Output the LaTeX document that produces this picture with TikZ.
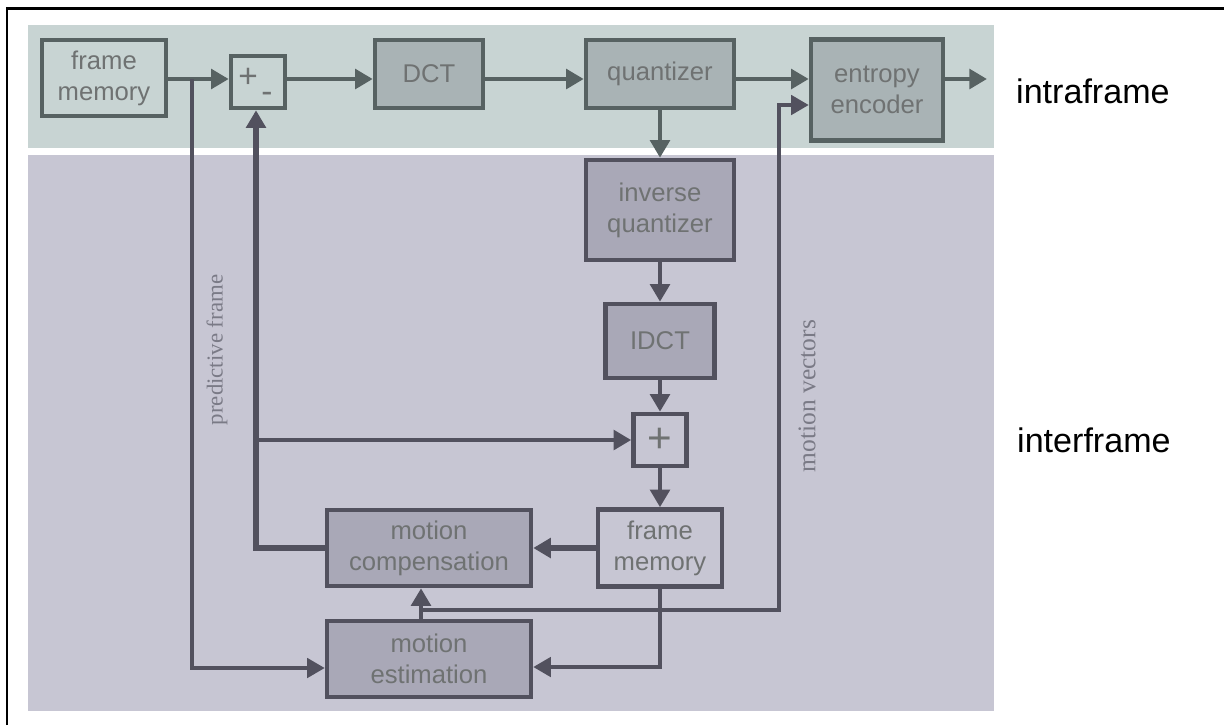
\documentclass[tikz,border=0pt]{standalone}
\usepackage{fontspec}
\setmainfont{Liberation Sans}
\newfontfamily\serifnote{Liberation Serif}
\usetikzlibrary{arrows.meta}
\definecolor{topband}{HTML}{C8D4D3}
\definecolor{botband}{HTML}{C7C6D3}
\definecolor{topfill}{HTML}{A9B3B5}
\definecolor{botfill}{HTML}{A9A8B7}
\definecolor{topline}{HTML}{576262}
\definecolor{botline}{HTML}{52515E}
\definecolor{boxtext}{HTML}{6F7272}
\definecolor{notetext}{HTML}{7A7A86}

\begin{document}
\begin{tikzpicture}
  [x=0.02cm,y=-0.02cm,
   box/.style={draw=topline,line width=2.6pt,fill=topfill,text=boxtext,align=center,
     inner sep=0pt,font=\fontsize{14.6}{17.6}\selectfont},
   lightbox/.style={box,fill=topband},
   lowbox/.style={box,draw=botline,fill=botfill},
   lowlight/.style={lowbox,fill=botband},
   sign/.style={text=boxtext,inner sep=0pt,font=\fontsize{19}{19}\selectfont},
   arr/.style={draw=topline,line width=2.6pt,-{Triangle[length=10pt,width=11pt]}},
   lowarr/.style={arr,draw=botline},
   thickarr/.style={lowarr,line width=3.1pt},
   thinarr/.style={lowarr,line width=2.1pt},
   note/.style={text=notetext,font=\serifnote\fontsize{13}{13}\selectfont,rotate=90}
  ]
  \useasboundingbox (0,0) rectangle (1224,725);

  % frame and bands
  \draw[line width=1.3pt] (7,725) -- (7,8.5) -- (1224,8.5);
  \fill[topband] (28,25) rectangle (994,148);
  \fill[botband] (28,155) rectangle (994,711);

  % intraframe row
  \node[lightbox,minimum width=2.48cm,minimum height=1.52cm] (fm1) at (104,78) {frame\\memory};
  \node[lightbox,minimum width=1.08cm,minimum height=1.04cm] (sub) at (258,82) {};
  \node[sign] (subplus) at ([shift={(-10,-4)}]sub.center) {+};
  \node[sign] (subminus) at ([shift={(9,15)}]sub.center) {-};
  \node[box,minimum width=2.16cm,minimum height=1.36cm] (dct) at (429,74) {DCT};
  \node[box,minimum width=2.96cm,minimum height=1.36cm] (quant) at (660,74) {quantizer};
  \node[box,minimum width=2.64cm,minimum height=2.02cm] (entropy) at (877,90) {entropy\\encoder};

  % interframe part
  \node[lowbox,minimum width=2.96cm,minimum height=2.0cm] (iq) at (660,210) {inverse\\quantizer};
  \node[lowbox,minimum width=2.18cm,minimum height=1.48cm] (idct) at (660,341) {IDCT};
  \node[lowlight,minimum width=1.06cm,minimum height=1.04cm] (add) at (660,440) {};
  \node[sign,font=\fontsize{24}{24}\selectfont] (addplus) at (add.center) {+};
  \node[lowlight,minimum width=2.48cm,minimum height=1.54cm] (fm2) at (660,548) {frame\\memory};
  \node[lowbox,minimum width=4.08cm,minimum height=1.52cm] (mc) at (429,548) {motion\\compensation};
  \node[lowbox,minimum width=4.08cm,minimum height=1.52cm] (me) at (429,659) {motion\\estimation};

  \coordinate (pfsplit) at (192,79);
  \coordinate (pfbend) at (192,668);
  \coordinate (pfup) at (256,548);
  \coordinate (addin) at (256,440);
  \coordinate (fmdown) at (660,667);
  \coordinate (mvup) at (421,610);
  \coordinate (mvbend) at (779,610);
  \coordinate (mvtop) at (779,105);
  \coordinate (out) at (987,79);

  \foreach \a/\b in {fm1/sub,sub/dct,dct/quant,quant/entropy}
    \draw[arr] (\a.east |- pfsplit) -- (\b.west |- pfsplit);
  \draw[arr] (entropy.east |- out) -- (out);
  \draw[arr] (quant) -- (iq);
  \foreach \a/\b in {iq/idct,idct/add,add/fm2}
    \draw[lowarr] (\a) -- (\b);

  \draw[thinarr] (pfsplit) -- (pfbend) -- (pfbend -| me.west);
  \draw[thickarr] (fm2) -- (mc);
  \draw[thickarr] (mc.west |- pfup) -- (pfup) -- (pfup |- sub.south);
  \draw[lowarr] (addin) -- (add);
  \draw[thinarr] (fm2.south) -- (fmdown) -- (fmdown -| me.east);
  \draw[lowarr] (mvup |- me.north) -- (mvup |- mc.south);
  \draw[thinarr] (mvup) -- (mvbend) -- (mvtop) -- (mvtop -| entropy.west);

  % labels
  \node[note] (pflabel) at (217,350) {predictive frame};
  \node[note,font=\serifnote\fontsize{14.5}{14.5}\selectfont] (mvlabel) at (807,396) {motion vectors};
  \node[anchor=base west,font=\fontsize{19.4}{20}\selectfont] (intra) at (1010,103) {intraframe};
  \node[anchor=base west,font=\fontsize{19.4}{20}\selectfont] (inter) at (1011,452) {interframe};
\end{tikzpicture}
\end{document}
